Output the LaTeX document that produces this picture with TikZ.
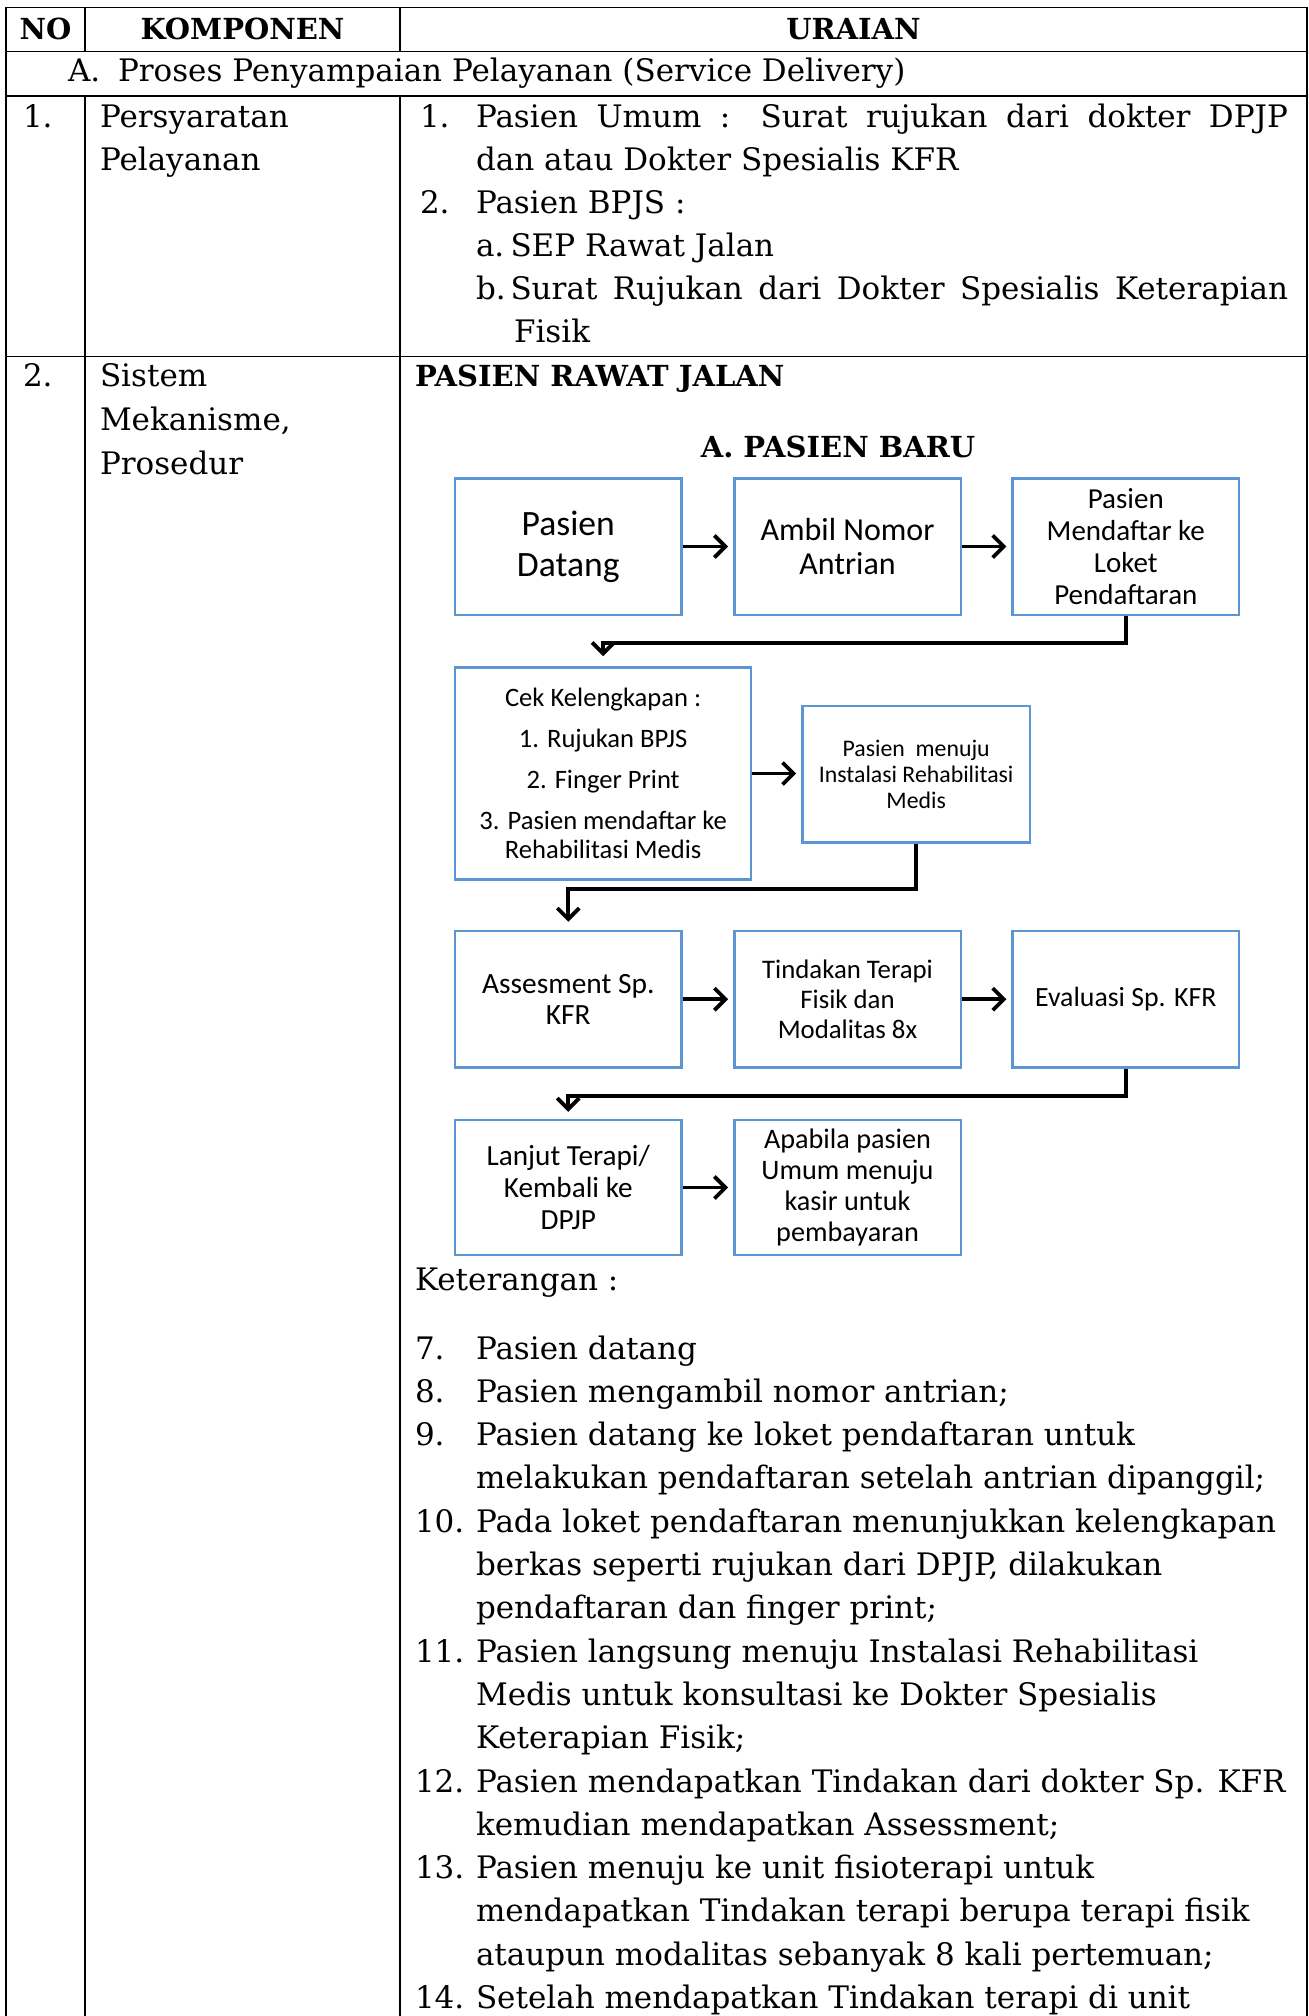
\documentclass[tikz,border=0pt]{standalone}
\usepackage{fontspec}
\setmainfont{DejaVu Serif}
\newfontfamily\diafont{Carlito}
\usetikzlibrary{arrows.meta}
\definecolor{boxblue}{RGB}{91,150,210}
\begin{document}
\begin{tikzpicture}[x=0.5pt,y=-0.5pt,
  tbl/.style={line width=0.9pt},
  txt/.style={anchor=base west, inner sep=0pt, outer sep=0pt, font=\fontsize{15.5}{21.5}\selectfont},
  btxt/.style={anchor=base, inner sep=0pt, outer sep=0pt, font=\fontsize{14.5}{18}\selectfont\bfseries},
  fbox/.style={draw=boxblue, line width=1.2pt, inner sep=0pt, align=center, minimum width=113.2pt, minimum height=68.2pt},
  flow/.style={line width=1.9pt, -{Straight Barb[length=5.5pt,width=11pt]}},
]
\useasboundingbox (0,0) rectangle (1309,2016);
% table rules
\draw[tbl] (6,2016) -- (6,7.5) -- (1307,7.5) -- (1307,2016);
\draw[tbl] (6,51.5) -- (1307,51.5);
\draw[tbl] (6,96) -- (1307,96);
\draw[tbl] (6,356.5) -- (1307,356.5);
\draw[tbl] (85,7.5) -- (85,51.5);
\draw[tbl] (400,7.5) -- (400,51.5);
\draw[tbl] (85,96) -- (85,2016);
\draw[tbl] (400,96) -- (400,2016);
% header
\node[btxt] (hno) at (45.5,39.5) {NO};
\node[btxt] (hkomp) at (242.5,39.5) {KOMPONEN};
\node[btxt] (hur) at (853.5,39.5) {URAIAN};
% section row
\node[txt] (sa) at (68,82) {A.};
\node[txt] (sat) at (118,82) {Proses Penyampaian Pelayanan (Service Delivery)};
% row 1
\node[txt] (r1no) at (23,128) {1.};
\node[txt] (r1k1) at (100,128) {Persyaratan};
\node[txt] (r1k2) at (100,171) {Pelayanan};
\node[txt] (r1u1n) at (420,128) {1.};
\node[txt] (r1u1) at (476,128) {\makebox[406pt][s]{Pasien Umum : Surat rujukan dari dokter DPJP}};
\node[txt] (r1u2) at (476,171) {dan atau Dokter Spesialis KFR};
\node[txt] (r1u3n) at (420,214) {2.};
\node[txt] (r1u3) at (476,214) {Pasien BPJS :};
\node[txt] (r1u4n) at (476,257) {a.};
\node[txt] (r1u4) at (510.5,257) {SEP Rawat Jalan};
\node[txt] (r1u5n) at (476,300) {b.};
\node[txt] (r1u5) at (510.5,300) {\makebox[388.75pt][s]{Surat Rujukan dari Dokter Spesialis Keterapian}};
\node[txt] (r1u6) at (514,343) {Fisik};
% row 2
\node[txt] (r2no) at (23,387) {2.};
\node[txt] (r2k1) at (100,387) {Sistem};
\node[txt] (r2k2) at (100,430) {Mekanisme,};
\node[txt] (r2k3) at (100,474) {Prosedur};
\node[btxt, anchor=base west] (prj) at (415,387) {PASIEN RAWAT JALAN};
\node[btxt] (pb) at (838,457.5) {A. PASIEN BARU};
% flow boxes
\node[fbox, font=\diafont\fontsize{17.8}{20.5}\selectfont] (b1) at (568.3,546.5) {Pasien\\Datang};
\node[fbox, font=\diafont\fontsize{16}{17.4}\selectfont] (b2) at (847.5,546.5) {Ambil Nomor\\Antrian};
\node[fbox, font=\diafont\fontsize{14.5}{16}\selectfont] (b3) at (1125.8,546.5) {Pasien\\Mendaftar ke\\Loket\\Pendaftaran};
\node[fbox, minimum width=148pt, minimum height=106.1pt, font=\diafont\fontsize{13.3}{14.8}\selectfont] (cek) at (603.1,773.5)
  {Cek Kelengkapan :\\[5.7pt]1. Rujukan BPJS\\[5.7pt]2. Finger Print\\[5.7pt]3. Pasien mendaftar ke\\Rehabilitasi Medis};
\node[fbox, minimum width=113.8pt, font=\diafont\fontsize{11.9}{12.9}\selectfont] (mnj) at (916.2,774.2) {Pasien\ \ menuju\\Instalasi Rehabilitasi\\Medis};
\node[fbox, font=\diafont\fontsize{14.7}{15.4}\selectfont] (asm) at (568.3,999.2) {Assesment Sp.\\KFR};
\node[fbox, font=\diafont\fontsize{13.4}{14.8}\selectfont] (tdk) at (847.5,999.2) {Tindakan Terapi\\Fisik dan\\Modalitas 8x};
\node[fbox, font=\diafont\fontsize{13.9}{15}\selectfont] (evl) at (1125.8,999.2) {Evaluasi Sp. KFR};
\node[fbox, minimum height=67.5pt, font=\diafont\fontsize{14.6}{16}\selectfont] (ljt) at (568.3,1187.5) {Lanjut Terapi/\\Kembali ke\\DPJP};
\node[fbox, minimum height=67.5pt, font=\diafont\fontsize{14.1}{15.4}\selectfont] (apb) at (847.5,1187.5) {Apabila pasien\\Umum menuju\\kasir untuk\\pembayaran};
% connectors
\draw[flow, shorten >=2.5pt] (b1.east) -- (b2.west);
\draw[flow, shorten >=2.5pt] (b2.east) -- (b3.west);
\draw[flow, shorten >=5pt] (b3.south) -- ++(0,27.3) -| (cek.north);
\draw[flow, shorten >=2.5pt] (cek.east) -- (cek.east -| mnj.west);
\draw[flow, shorten >=4pt] (mnj.south) -- ++(0,45) -| (asm.north);
\draw[flow, shorten >=2.5pt] (asm.east) -- (tdk.west);
\draw[flow, shorten >=2.5pt] (tdk.east) -- (evl.west);
\draw[flow, shorten >=3.5pt] (evl.south) -- ++(0,27) -| (ljt.north);
\draw[flow, shorten >=2.5pt] (ljt.east) -- (apb.west);
% keterangan
\node[txt] (ket) at (415,1290) {Keterangan :};
\node[txt] (k7n) at (415,1359) {7.};
\node[txt] (k7) at (476,1359) {Pasien datang};
\node[txt] (k8n) at (415,1402.3) {8.};
\node[txt] (k8) at (476,1402.3) {Pasien mengambil nomor antrian;};
\node[txt] (k9n) at (415,1445.6) {9.};
\node[txt] (k9a) at (476,1445.6) {Pasien datang ke loket pendaftaran untuk};
\node[txt] (k9b) at (476,1488.9) {melakukan pendaftaran setelah antrian dipanggil;};
\node[txt] (k10n) at (415,1532.2) {10.};
\node[txt] (k10a) at (476,1532.2) {Pada loket pendaftaran menunjukkan kelengkapan};
\node[txt] (k10b) at (476,1575.5) {berkas seperti rujukan dari DPJP, dilakukan};
\node[txt] (k10c) at (476,1618.8) {pendaftaran dan finger print;};
\node[txt] (k11n) at (415,1662.1) {11.};
\node[txt] (k11a) at (476,1662.1) {Pasien langsung menuju Instalasi Rehabilitasi};
\node[txt] (k11b) at (476,1705.4) {Medis untuk konsultasi ke Dokter Spesialis};
\node[txt] (k11c) at (476,1748.7) {Keterapian Fisik;};
\node[txt] (k12n) at (415,1792) {12.};
\node[txt] (k12a) at (476,1792) {Pasien mendapatkan Tindakan dari dokter Sp. KFR};
\node[txt] (k12b) at (476,1835.3) {kemudian mendapatkan Assessment;};
\node[txt] (k13n) at (415,1878.6) {13.};
\node[txt] (k13a) at (476,1878.6) {Pasien menuju ke unit fisioterapi untuk};
\node[txt] (k13b) at (476,1921.9) {mendapatkan Tindakan terapi berupa terapi fisik};
\node[txt] (k13c) at (476,1965.2) {ataupun modalitas sebanyak 8 kali pertemuan;};
\node[txt] (k14n) at (415,2008.5) {14.};
\node[txt] (k14a) at (476,2008.5) {Setelah mendapatkan Tindakan terapi di unit};
\end{tikzpicture}
\end{document}
